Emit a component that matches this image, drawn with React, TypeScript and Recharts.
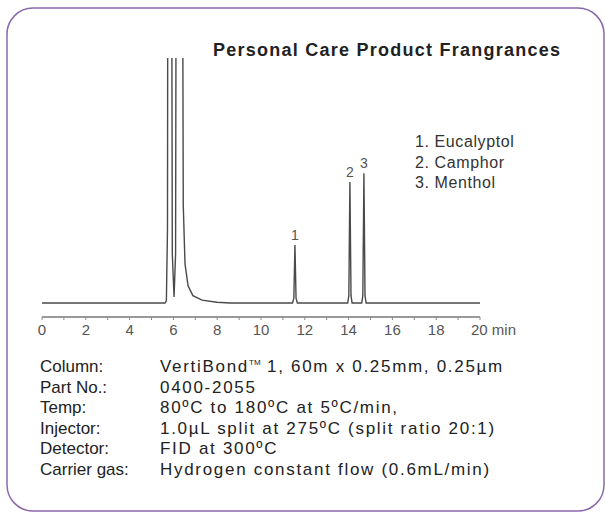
import React from 'react';
import { LineChart, Line, XAxis, YAxis, ReferenceDot } from 'recharts';

// retention time (min) and detector response
const times = [0, 5.62, 5.68, 5.73, 5.78, 5.86, 5.95, 6.03, 6.1, 6.18, 6.34, 6.45, 6.53, 6.67, 6.89, 7.31, 7.99, 8.6, 9.5, 11.44, 11.5, 11.55, 11.6, 11.66, 13.96, 14.01, 14.06, 14.11, 14.16, 14.6, 14.65, 14.7, 14.75, 14.8, 20];
const signal = [0, 0, 1, 30, 420, 420, 20, 2.5, 20, 420, 420, 40, 16, 7, 3, 1.2, 0.3, 0, 0, 0, 2, 23.7, 2, 0, 0, 3, 49.4, 3, 0, 0, 3, 53, 3, 0, 0];

const peakTimes = [11.55, 14.06, 14.7];
const peakHeights = [23.7, 49.4, 53];
const peakLabels = ['1', '2', '3'];
const compounds = ['1. Eucalyptol', '2. Camphor', '3. Menthol'];

const xTicks = [0, 1, 2, 3, 4, 5, 6, 7, 8, 9, 10, 11, 12, 13, 14, 15, 16, 17, 18, 19, 20];

const specLabels = ['Column:', 'Part No.:', 'Temp:', 'Injector:', 'Detector:', 'Carrier gas:'];
const specValues = [
  'VertiBond|1, 60m x 0.25mm, 0.25µm',
  '0400-2055',
  '80ºC to 180ºC at 5ºC/min,',
  '1.0µL split at 275ºC (split ratio 20:1)',
  'FID at 300ºC',
  'Hydrogen constant flow (0.6mL/min)',
];

const data = times.map((t, i) => ({ t, v: signal[i] }));

const font = '"Liberation Sans", Arial, sans-serif';

const TimeTick = (props: any) => {
  const { x, y, payload } = props;
  const v = payload.value;
  if (v % 2 !== 0) return null;
  if (v === 20) {
    return (
      <text x={x - 9} y={y + 13} fontSize={15} fill="#555" fontFamily={font}>20 min</text>
    );
  }
  return (
    <text x={x} y={y + 13} fontSize={15} fill="#555" textAnchor="middle" fontFamily={font}>{v}</text>
  );
};

const renderValue = (s: string) => {
  // "|" marks where the trademark sign goes
  if (s.includes('|')) {
    const [a, b] = s.split('|');
    return (
      <>
        {a}
        <tspan fontSize={8} dy={-7} letterSpacing={0}>TM</tspan>
        <tspan dy={7}> {b}</tspan>
      </>
    );
  }
  return s;
};

export default function App() {
  return (
    <div style={{ position: 'absolute', left: 0, top: 0, width: 605, height: 514, background: '#fff' }}>
      <svg width={605} height={514} style={{ position: 'absolute', left: 0, top: 0 }}>
        <rect x={7} y={8} width={597} height={503} rx={26} fill="none" stroke="#8a68ad" strokeWidth={1.5} />
        <text x={213} y={56} fontSize={18} fontWeight="bold" letterSpacing={1.25} fill="#222" fontFamily={font}>
          Personal Care Product Frangrances
        </text>
        {compounds.map((c, i) => (
          <text key={c} x={415} y={147 + i * 20.5} fontSize={16} letterSpacing={0.6} fill="#333" fontFamily={font}>{c}</text>
        ))}
        {specLabels.map((l, i) => (
          <g key={l}>
            <text x={40} y={372 + i * 20.6} fontSize={17} fill="#222" fontFamily={font}>{l}</text>
            <text x={160} y={372 + i * 20.6} fontSize={17} letterSpacing={1.7} fill="#222" fontFamily={font}>{renderValue(specValues[i])}</text>
          </g>
        ))}
      </svg>
      <div style={{ position: 'absolute', left: 0, top: 0 }}>
        <LineChart width={605} height={514} data={data} margin={{ top: 58, left: 42, right: 125, bottom: 167 }}>
          <XAxis
            dataKey="t"
            type="number"
            domain={[0, 20]}
            ticks={xTicks}
            interval={0}
            height={30}
            tickSize={3}
            axisLine={{ stroke: '#777', strokeWidth: 1.5 }}
            tickLine={{ stroke: '#888' }}
            tick={<TimeTick />}
          />
          <YAxis hide width={0} type="number" domain={[-5.7, 100]} allowDataOverflow />
          <Line
            dataKey="v"
            type="linear"
            stroke="#4a4a4a"
            strokeWidth={1.4}
            dot={false}
            isAnimationActive={false}
          />
          {peakTimes.map((t, i) => (
            <ReferenceDot
              key={peakLabels[i]}
              x={t}
              y={peakHeights[i]}
              r={0}
              fill="none"
              stroke="none"
              label={{ value: peakLabels[i], position: 'top', offset: 5, fill: '#555', fontSize: 14, fontFamily: font }}
            />
          ))}
        </LineChart>
      </div>
    </div>
  );
}
